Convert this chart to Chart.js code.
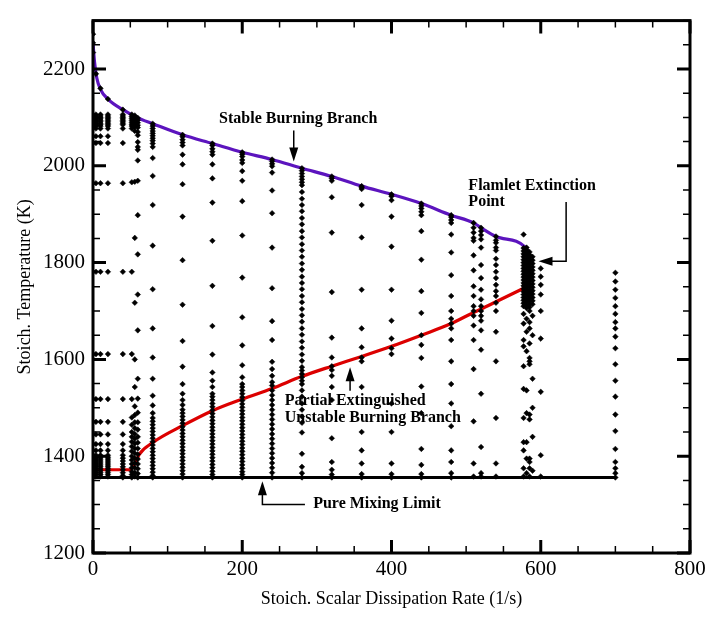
<!DOCTYPE html>
<html>
<head>
<meta charset="utf-8">
<script src="https://cdn.jsdelivr.net/npm/chart.js@4.4.1/dist/chart.umd.min.js"></script>
<style>
  body { margin: 0; background: #fff; }
  canvas { display: block; }
</style>
</head>
<body>
<canvas id="chart" width="712" height="621"></canvas>
<script>
// x ticks / y ticks
const xTicks = [0, 200, 400, 600, 800];
const yTicks = [1200, 1400, 1600, 1800, 2000, 2200];

// stable burning branch (purple)
const upperX = [0, 2, 5, 10, 20, 40, 60, 80, 120, 160, 200, 240, 280, 320, 360, 400, 440, 480, 510, 520, 540, 580, 586];
const upperT = [2254, 2215, 2182, 2158, 2138, 2116, 2099, 2087, 2064, 2046, 2028, 2013, 1995, 1978, 1958, 1941, 1922, 1898, 1882, 1872, 1854, 1831, 1813];

// partially extinguished / unstable branch (red)
const lowerX = [0, 50, 56, 62, 80, 120, 160, 200, 240, 280, 320, 360, 400, 440, 480, 510, 520, 540, 580];
const lowerT = [1372, 1372, 1384, 1404, 1428, 1463, 1494, 1518, 1540, 1565, 1586, 1606, 1627, 1650, 1674, 1697, 1704, 1719, 1749];

// pure mixing limit
const mixX = [0, 700];
const mixT = [1356, 1356];

// scattered flamelet states, one list of temperatures per dissipation rate
const leftRows = [2106, 2103, 2100, 2097, 2094, 2091, 2088, 2085, 2082, 2077, 2061, 2047, 1964, 1781, 1611, 1518, 1471, 1445, 1425, 1412, 1402, 1398, 1394, 1390, 1386, 1382, 1378, 1374, 1370, 1366, 1362, 1358];
const scatterX = [0, 4, 10, 20, 40, 52, 56, 60, 80, 120, 160, 200, 240, 280, 320, 360, 400, 440, 480, 510, 520, 540, 577, 581, 585, 589, 600, 700];
const scatterT = [
  [2272, 2254, 2234].concat(leftRows),
  [2190].concat(leftRows),
  [2160].concat(leftRows),
  [2138].concat(leftRows),
  [2116, 2106, 2103, 2100, 2097, 2094, 2091, 2088, 2085, 2077, 2047, 1964, 1781, 1611, 1518, 1471, 1445, 1425, 1412, 1402, 1396, 1390, 1384, 1378, 1372, 1366, 1360, 1356],
  [2106, 2102, 2098, 2094, 2090, 2086, 2082, 2077, 1966, 1781, 1611, 1518, 1480, 1465, 1450, 1440, 1430, 1420, 1410, 1400, 1392, 1384, 1376, 1368, 1362, 1356],
  [2104, 2100, 2096, 2092, 2088, 2084, 2080, 2072, 1967, 1851, 1717, 1600, 1543, 1503, 1485, 1470, 1458, 1446, 1436, 1426, 1416, 1406, 1396, 1386, 1376, 1366, 1358],
  [2099, 2094, 2089, 2084, 2079, 2070, 2063, 2049, 2039, 2033, 2011, 1969, 1898, 1817, 1734, 1660, 1560, 1519, 1490, 1470, 1455, 1440, 1428, 1416, 1404, 1394, 1384, 1374, 1364, 1356],
  [2087, 2082, 2077, 2072, 2067, 2062, 2057, 2052, 2046, 2039, 2016, 1979, 1919, 1835, 1745, 1664, 1604, 1560, 1525, 1505, 1489, 1479, 1472, 1465, 1458, 1451, 1444, 1437, 1430, 1423, 1416, 1409, 1402, 1395, 1388, 1381, 1374, 1367, 1360, 1356],
  [2064, 2060, 2054, 2048, 2042, 2023, 2003, 1962, 1895, 1805, 1713, 1638, 1585, 1549, 1529, 1516, 1506, 1496, 1489, 1482, 1475, 1468, 1461, 1454, 1447, 1440, 1433, 1426, 1419, 1412, 1405, 1398, 1391, 1384, 1377, 1370, 1363, 1356],
  [2046, 2042, 2035, 2029, 2023, 2003, 1974, 1924, 1845, 1752, 1669, 1610, 1573, 1556, 1543, 1529, 1523, 1516, 1509, 1502, 1495, 1488, 1481, 1474, 1467, 1460, 1453, 1446, 1439, 1432, 1425, 1418, 1411, 1404, 1397, 1390, 1383, 1376, 1369, 1362, 1356],
  [2028, 2024, 2019, 2012, 2006, 1989, 1969, 1927, 1856, 1769, 1687, 1629, 1588, 1563, 1549, 1543, 1536, 1529, 1522, 1515, 1508, 1501, 1494, 1487, 1480, 1473, 1466, 1459, 1452, 1445, 1438, 1431, 1424, 1417, 1410, 1403, 1396, 1389, 1382, 1375, 1368, 1362, 1356],
  [2013, 2009, 2004, 1999, 1986, 1949, 1902, 1831, 1747, 1679, 1640, 1595, 1580, 1566, 1553, 1546, 1536, 1526, 1516, 1506, 1496, 1486, 1476, 1466, 1456, 1446, 1436, 1426, 1416, 1406, 1396, 1386, 1376, 1366, 1356],
  [1995, 1990, 1984, 1978, 1972, 1966, 1960, 1946, 1932, 1919, 1906, 1892, 1879, 1865, 1852, 1838, 1825, 1812, 1798, 1785, 1771, 1758, 1745, 1731, 1718, 1704, 1691, 1678, 1664, 1651, 1637, 1624, 1610, 1597, 1584, 1577, 1570, 1563, 1556, 1549, 1536, 1523, 1509, 1496, 1482, 1469, 1449, 1405, 1378, 1365, 1356],
  [1978, 1974, 1969, 1935, 1862, 1739, 1645, 1604, 1586, 1578, 1566, 1543, 1516, 1437, 1388, 1372, 1362, 1356],
  [1958, 1955, 1952, 1919, 1852, 1744, 1664, 1625, 1604, 1596, 1543, 1450, 1412, 1385, 1363, 1356],
  [1941, 1937, 1929, 1895, 1833, 1744, 1680, 1643, 1623, 1611, 1509, 1450, 1385, 1363, 1356],
  [1922, 1917, 1912, 1905, 1898, 1865, 1806, 1741, 1696, 1650, 1630, 1603, 1544, 1489, 1415, 1382, 1363, 1356],
  [1898, 1894, 1888, 1882, 1858, 1821, 1774, 1731, 1700, 1684, 1674, 1664, 1640, 1596, 1549, 1509, 1462, 1412, 1388, 1365, 1356],
  [1882, 1872, 1862, 1851, 1845, 1815, 1784, 1751, 1731, 1710, 1700, 1690, 1670, 1640, 1580, 1472, 1385, 1358],
  [1872, 1865, 1857, 1848, 1831, 1795, 1768, 1744, 1724, 1710, 1700, 1690, 1680, 1660, 1620, 1529, 1419, 1365, 1358],
  [1854, 1846, 1841, 1831, 1825, 1808, 1795, 1781, 1768, 1754, 1741, 1731, 1717, 1700, 1657, 1596, 1479, 1385, 1358],
  [1858, 1830, 1824, 1818, 1812, 1806, 1800, 1794, 1788, 1782, 1776, 1770, 1764, 1758, 1752, 1746, 1740, 1734, 1728, 1722, 1716, 1710, 1694, 1674, 1640, 1627, 1586, 1539, 1479, 1429, 1412, 1375, 1358],
  [1831, 1826, 1820, 1814, 1808, 1802, 1796, 1790, 1784, 1778, 1772, 1766, 1760, 1754, 1748, 1742, 1736, 1730, 1724, 1718, 1712, 1706, 1684, 1657, 1617, 1536, 1489, 1429, 1395, 1365],
  [1822, 1816, 1810, 1804, 1798, 1792, 1786, 1780, 1774, 1768, 1762, 1756, 1750, 1744, 1738, 1732, 1726, 1720, 1714, 1708, 1700, 1677, 1664, 1633, 1603, 1596, 1590, 1486, 1476, 1395, 1388, 1375, 1358],
  [1812, 1805, 1798, 1791, 1784, 1777, 1770, 1763, 1756, 1749, 1742, 1735, 1728, 1721, 1714, 1690, 1650, 1560, 1500, 1440, 1370],
  [1788, 1771, 1754, 1734, 1700, 1643, 1533, 1402, 1358],
  [1779, 1761, 1744, 1727, 1710, 1694, 1677, 1664, 1647, 1623, 1590, 1556, 1523, 1486, 1452, 1415, 1388, 1375, 1365, 1356]
];

const toXY = (xs, ts) => xs.map((v, i) => ({x: v, y: ts[i]}));
const scatterPts = [];
scatterX.forEach((xv, i) => scatterT[i].forEach(t => scatterPts.push({x: xv, y: t})));

const serif = '"Liberation Serif", "Times New Roman", serif';

// frame with inward ticks on all four sides
const framePlugin = {
  id: 'frame',
  afterDraw(chart) {
    const {ctx, chartArea: a, scales: {x, y}} = chart;
    ctx.save();
    ctx.strokeStyle = '#000';
    ctx.lineCap = 'butt';
    for (let v = 0; v <= 800; v += 50) {
      const px = x.getPixelForValue(v);
      const major = v % 200 === 0;
      const len = major ? 13 : 7;
      ctx.lineWidth = major ? 3 : 1.5;
      ctx.beginPath();
      ctx.moveTo(px, a.bottom); ctx.lineTo(px, a.bottom - len);
      ctx.moveTo(px, a.top); ctx.lineTo(px, a.top + len);
      ctx.stroke();
    }
    for (let v = 1200; v <= 2300; v += 50) {
      const py = y.getPixelForValue(v);
      const major = v % 200 === 0;
      const len = major ? 13 : 7;
      ctx.lineWidth = major ? 3 : 1.5;
      ctx.beginPath();
      ctx.moveTo(a.left, py); ctx.lineTo(a.left + len, py);
      ctx.moveTo(a.right, py); ctx.lineTo(a.right - len, py);
      ctx.stroke();
    }
    ctx.lineWidth = 3;
    ctx.strokeRect(a.left, a.top, a.right - a.left, a.bottom - a.top);
    ctx.restore();
  }
};

// text labels and arrows
const notesPlugin = {
  id: 'notes',
  afterDraw(chart) {
    const {ctx, scales: {x, y}} = chart;
    const X = v => x.getPixelForValue(v), Y = v => y.getPixelForValue(v);
    ctx.save();
    ctx.fillStyle = '#000';
    ctx.strokeStyle = '#000';
    ctx.font = 'bold 16px ' + serif;
    ctx.textBaseline = 'middle';

    ctx.textAlign = 'center';
    ctx.fillText('Stable Burning Branch', X(275), Y(2097));
    ctx.textAlign = 'left';
    ctx.fillText('Flamlet Extinction', X(503), Y(1959));
    ctx.fillText('Point', X(503), Y(1925));
    ctx.fillText('Partial Extinguished', X(257), Y(1515));
    ctx.fillText('Unstable Burning Branch', X(257), Y(1479));
    ctx.fillText('Pure Mixing Limit', X(295), Y(1301));

    const head = (tx, ty, dx, dy) => {
      const L = 14, W = 4.5;
      const bx = tx - dx * L, by = ty - dy * L;
      ctx.beginPath();
      ctx.moveTo(tx, ty);
      ctx.lineTo(bx - dy * W, by + dx * W);
      ctx.lineTo(bx + dy * W, by - dx * W);
      ctx.closePath();
      ctx.fill();
    };
    const path = pts => {
      ctx.beginPath();
      ctx.moveTo(pts[0][0], pts[0][1]);
      pts.slice(1).forEach(p => ctx.lineTo(p[0], p[1]));
      ctx.stroke();
    };
    ctx.lineWidth = 1.5;

    // stable branch arrow (down)
    path([[X(269), Y(2073)], [X(269), Y(2009) - 10]]);
    head(X(269), Y(2009), 0, 1);
    // extinction point arrow (left)
    path([[X(634), Y(1925)], [X(634), Y(1803)], [X(597) + 10, Y(1803)]]);
    head(X(597), Y(1803), -1, 0);
    // unstable branch arrow (up)
    path([[X(344.5), Y(1535)], [X(344.5), Y(1584) + 10]]);
    head(X(344.5), Y(1584), 0, -1);
    // pure mixing arrow (up)
    path([[X(284), Y(1300)], [X(227), Y(1300)], [X(227), Y(1348) + 10]]);
    head(X(227), Y(1348), 0, -1);
    ctx.restore();
  }
};

new Chart(document.getElementById('chart'), {
  type: 'scatter',
  data: {
    datasets: [
      {
        data: scatterPts,
        pointStyle: 'rectRot',
        pointRadius: 2.8,
        backgroundColor: '#000',
        borderColor: '#000',
        borderWidth: 0.5
      },
      {
        data: toXY(upperX, upperT),
        showLine: true,
        borderColor: 'rgb(92, 20, 190)',
        borderWidth: 3.2,
        pointRadius: 0,
        cubicInterpolationMode: 'monotone'
      },
      {
        data: toXY(lowerX, lowerT),
        showLine: true,
        borderColor: 'rgb(220, 0, 0)',
        borderWidth: 3.2,
        pointRadius: 0,
        cubicInterpolationMode: 'monotone'
      },
      {
        data: toXY(mixX, mixT),
        showLine: true,
        borderColor: '#000',
        borderWidth: 3,
        pointRadius: 0
      }
    ]
  },
  options: {
    responsive: false,
    animation: false,
    events: [],
    layout: { padding: { top: 6, right: 22, left: 0, bottom: 0 } },
    plugins: { legend: { display: false }, tooltip: { enabled: false } },
    scales: {
      x: {
        type: 'linear',
        min: 0,
        max: 800,
        afterFit(s) { s.height = 68; },
        afterBuildTicks(s) { s.ticks = xTicks.map(v => ({value: v})); },
        grid: { display: false, drawTicks: false },
        border: { display: false },
        ticks: { color: '#000', font: { family: serif, size: 21 }, padding: 4, maxRotation: 0, callback: v => String(v) },
        title: {
          display: true,
          text: 'Stoich. Scalar Dissipation Rate (1/s)',
          color: '#000',
          font: { family: serif, size: 18 },
          padding: { top: 0, bottom: 11 }
        }
      },
      y: {
        type: 'linear',
        min: 1200,
        max: 2300,
        afterFit(s) { s.width = 93; },
        afterBuildTicks(s) { s.ticks = yTicks.map(v => ({value: v})); },
        grid: { display: false, drawTicks: false },
        border: { display: false },
        ticks: { color: '#000', font: { family: serif, size: 21 }, padding: 8, callback: v => String(v) },
        title: {
          display: true,
          text: 'Stoich. Temperature (K)',
          color: '#000',
          font: { family: serif, size: 18 },
          padding: { top: 14, bottom: 0 }
        }
      }
    }
  },
  plugins: [framePlugin, notesPlugin]
});
</script>
</body>
</html>
